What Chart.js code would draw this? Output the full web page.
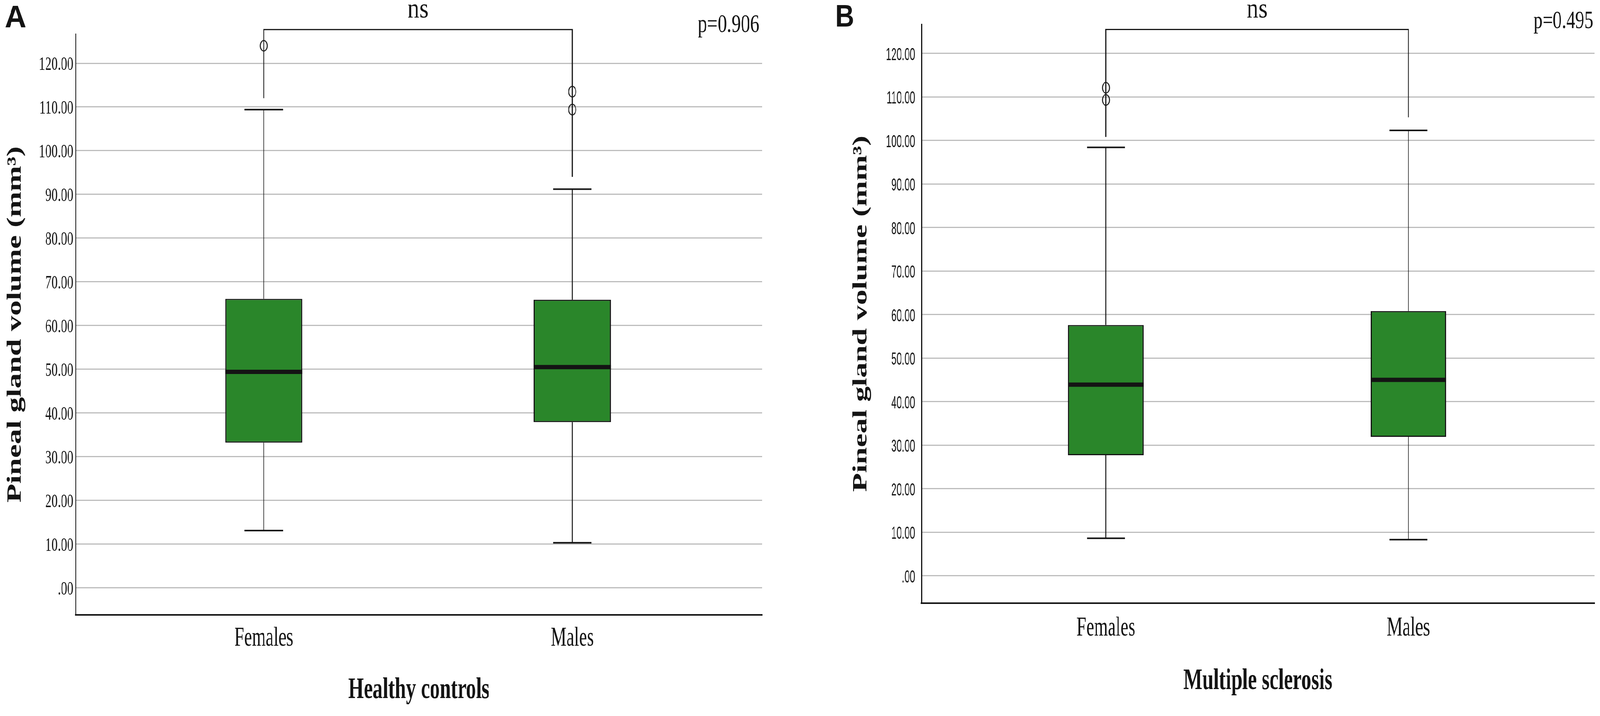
<!DOCTYPE html>
<html>
<head>
<meta charset="utf-8">
<title>Pineal gland volume</title>
<script src="https://cdn.jsdelivr.net/npm/chart.js@4.4.1/dist/chart.umd.min.js"></script>
<style>
  html, body { margin: 0; padding: 0; background: #fff; overflow: hidden; }
  #stage { position: absolute; left: 0; top: 0; width: 4317px; height: 1834px; transform-origin: 0 0; }
  .panel { position: absolute; top: 0; height: 1834px; }
  #panelA { left: 0; width: 2158px; }
  #panelB { left: 2158px; width: 2159px; }
</style>
</head>
<body>
<div id="stage">
  <div class="panel" id="panelA"><canvas id="chartA"></canvas></div>
  <div class="panel" id="panelB"><canvas id="chartB"></canvas></div>
</div>
<script>
const groups = ['Females', 'Males'];
const yTicks = [0, 10, 20, 30, 40, 50, 60, 70, 80, 90, 100, 110, 120];
const yTitle = 'Pineal gland volume (mm³)';
const sigLabel = 'ns';

// A - healthy controls
const hcLow = [13.1, 10.3];
const hcQ1 = [33.2, 37.9];
const hcMedian = [49.4, 50.5];
const hcQ3 = [66.1, 65.9];
const hcHigh = [109.4, 91.2];
const hcOutliers = [[124.0], [113.5, 109.4]];
const hcBracket = [112.0, 127.7, 94.0]; // left leg end, top, right leg end
const hcTitle = 'Healthy controls';
const hcP = 'p=0.906';

// B - multiple sclerosis
const msLow = [8.6, 8.3];
const msQ1 = [27.7, 31.9];
const msMedian = [43.9, 45.0];
const msQ3 = [57.6, 60.8];
const msHigh = [98.4, 102.3];
const msOutliers = [[112.1, 109.3], []];
const msBracket = [100.8, 125.5, 105.3];
const msTitle = 'Multiple sclerosis';
const msP = 'p=0.495';

const BOX_HALF = 0.125;
const CAP_HALF = 0.0625;
const GREEN = '#2a862a';
const INK = '#141414';

function ringMarker() {
    const c = document.createElement('canvas');
    c.width = 26;
    c.height = 34;
    const g = c.getContext('2d');
    g.strokeStyle = INK;
    g.lineWidth = 2.5;
    g.beginPath();
    g.ellipse(13, 17, 9.5, 13.5, 0, 0, Math.PI * 2);
    g.stroke();
    return c;
}

// turn a list of [[x1,y1],[x2,y2]] pieces into one broken line
function pieces(list) {
    const out = [];
    list.forEach((p, k) => {
        if (k) out.push({ x: p[0][0], y: null });
        out.push({ x: p[0][0], y: p[0][1] }, { x: p[1][0], y: p[1][1] });
    });
    return out;
}

function squeezed(ctx, text, x, y, font, sx, align) {
    ctx.save();
    ctx.font = font;
    ctx.fillStyle = INK;
    ctx.textAlign = align || 'center';
    ctx.textBaseline = 'alphabetic';
    ctx.translate(x, y);
    ctx.scale(sx, 1);
    ctx.fillText(text, 0, 0);
    ctx.restore();
}

const panelText = {
    id: 'panelText',
    afterDraw(chart, args, o) {
        const ctx = chart.ctx;
        const area = chart.chartArea;
        const xs = chart.scales.x;
        const ys = chart.scales.y;

        yTicks.forEach(v => {
            const label = v === 0 ? '.00' : v.toFixed(2);
            squeezed(ctx, label, area.left - o.tickGap, ys.getPixelForValue(v) + o.tickDrop, o.tickFont, o.tickSx, 'right');
        });

        groups.forEach((g, i) => {
            squeezed(ctx, g, xs.getPixelForValue(i), o.catY, '69px "Liberation Serif"', 0.69, 'center');
        });

        const mid = (area.left + area.right) / 2;
        squeezed(ctx, o.title, mid, o.titleY, 'bold 77px "Liberation Serif"', 0.7, 'center');

        const between = (xs.getPixelForValue(0) + xs.getPixelForValue(1)) / 2;
        squeezed(ctx, sigLabel, between, 45, '71px "Liberation Serif"', 0.9, 'center');
        squeezed(ctx, o.p, area.right - o.pGap, o.pY, o.pFont, 0.76, 'right');

        squeezed(ctx, o.letter, o.letterX, o.letterY, 'bold 80px "Liberation Sans"', o.letterSx, 'left');

        // rotated y title, thinned across like the rest of the figure
        ctx.save();
        ctx.font = 'bold 79px "Liberation Serif"';
        ctx.fillStyle = INK;
        ctx.textAlign = 'center';
        ctx.textBaseline = 'middle';
        ctx.translate(area.left - 162, (area.top + area.bottom) / 2);
        ctx.rotate(-Math.PI / 2);
        ctx.scale(1, 0.7);
        ctx.fillText(yTitle, 0, 0);
        ctx.restore();
    }
};

function makePanel(canvasId, d, look) {
    const idx = groups.map((g, i) => i);
    const boxData = idx.map(i => ({ x: i, y: [d.q1[i], d.q3[i]] }));
    const medianData = pieces(idx.map(i => [[i - BOX_HALF, d.median[i]], [i + BOX_HALF, d.median[i]]]));
    const stemData = pieces(idx.flatMap(i => [
        [[i, d.q3[i]], [i, d.high[i]]],
        [[i, d.q1[i]], [i, d.low[i]]]
    ]));
    const capData = pieces(idx.flatMap(i => [
        [[i - CAP_HALF, d.high[i]], [i + CAP_HALF, d.high[i]]],
        [[i - CAP_HALF, d.low[i]], [i + CAP_HALF, d.low[i]]]
    ]));
    const outlierData = idx.flatMap(i => d.outliers[i].map(v => ({ x: i, y: v })));
    const bracketData = [
        { x: 0, y: d.bracket[0] },
        { x: 0, y: d.bracket[1] },
        { x: 1, y: d.bracket[1] },
        { x: 1, y: d.bracket[2] }
    ];

    const lineBase = { type: 'line', borderColor: INK, pointRadius: 0, spanGaps: false, borderCapStyle: 'butt', tension: 0 };

    return new Chart(document.getElementById(canvasId), {
        type: 'bar',
        data: {
            datasets: [
                {
                    type: 'bar',
                    data: boxData,
                    backgroundColor: GREEN,
                    borderColor: INK,
                    borderWidth: 3,
                    borderSkipped: false,
                    barPercentage: 2 * BOX_HALF,
                    categoryPercentage: 1,
                    order: 5
                },
                Object.assign({}, lineBase, { data: stemData, borderWidth: 2.5, order: 4 }),
                Object.assign({}, lineBase, { data: capData, borderWidth: 4, order: 3 }),
                Object.assign({}, lineBase, { data: medianData, borderWidth: 11, order: 1 }),
                Object.assign({}, lineBase, { data: bracketData, borderWidth: 3, clip: false, borderJoinStyle: 'miter', order: 2 }),
                {
                    type: 'scatter',
                    data: outlierData,
                    pointStyle: ringMarker(),
                    pointRadius: 14,
                    order: 0
                }
            ]
        },
        options: {
            responsive: true,
            maintainAspectRatio: false,
            animation: false,
            events: [],
            layout: { padding: look.padding },
            plugins: {
                legend: { display: false },
                tooltip: { enabled: false },
                panelText: look.text
            },
            scales: {
                x: {
                    type: 'linear',
                    offset: false,
                    min: -0.61,
                    max: 1.615,
                    afterBuildTicks: s => { s.ticks = idx.map(i => ({ value: i })); },
                    grid: { display: false, drawTicks: false },
                    border: { display: true, color: INK, width: 4 },
                    ticks: { display: false }
                },
                y: {
                    type: 'linear',
                    min: look.yMin,
                    max: look.yMax,
                    afterBuildTicks: s => { s.ticks = yTicks.map(v => ({ value: v })); },
                    grid: { color: '#bdbdbd', lineWidth: 3, drawTicks: false },
                    border: { display: true, color: INK, width: 3 },
                    ticks: { display: false }
                }
            }
        },
        plugins: [panelText]
    });
}

function fitStage() {
    // the figure is laid out on a 4317 x 1834 sheet; fit it to whatever viewport we get
    const sx = window.innerWidth / 4317;
    const sy = window.innerHeight / 1834;
    document.getElementById('stage').style.transform = 'scale(' + sx + ',' + sy + ')';
}

function initPanels() {
    makePanel('chartA', {
        low: hcLow, q1: hcQ1, median: hcMedian, q3: hcQ3, high: hcHigh,
        outliers: hcOutliers, bracket: hcBracket
    }, {
        yMin: -6.2,
        yMax: 126.7,
        padding: { left: 204, top: 87, right: 102, bottom: 259 },
        text: {
            title: hcTitle, p: hcP, letter: 'A',
            tickFont: '49px "Liberation Serif"', tickSx: 0.69, tickGap: 6, tickDrop: 17,
            catY: 1654, titleY: 1788,
            pFont: '66px "Liberation Serif"', pGap: 7, pY: 82,
            letterX: 13, letterY: 70, letterSx: 1
        }
    });

    makePanel('chartB', {
        low: msLow, q1: msQ1, median: msMedian, q3: msQ3, high: msHigh,
        outliers: msOutliers, bracket: msBracket
    }, {
        yMin: -6.3,
        yMax: 126.7,
        padding: { left: 328, top: 62, right: 7, bottom: 289 },
        text: {
            title: msTitle, p: msP, letter: 'B',
            tickFont: '45px "Liberation Sans"', tickSx: 0.57, tickGap: 17, tickDrop: 17,
            catY: 1628, titleY: 1765,
            pFont: '64px "Liberation Serif"', pGap: 3, pY: 72,
            letterX: 96, letterY: 68, letterSx: 0.88
        }
    });
}

document.addEventListener('DOMContentLoaded', function() {
    fitStage();
    initPanels();
});
</script>
</body>
</html>
